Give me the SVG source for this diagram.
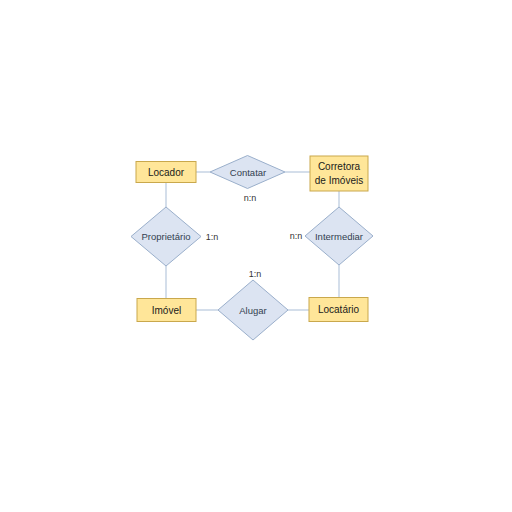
<svg xmlns="http://www.w3.org/2000/svg" width="512" height="512" viewBox="0 0 512 512">
<style>
.ent{fill:#FFE699;stroke:#C9A84C;stroke-width:1}
.rel{fill:#DCE4F2;stroke:#9AAFCB;stroke-width:1}
.et{font-family:"Liberation Sans","DejaVu Sans",sans-serif;font-size:10px;fill:#1a1a1a;text-anchor:middle;dominant-baseline:central}
.rt{font-family:"Liberation Sans","DejaVu Sans",sans-serif;font-size:9.5px;fill:#333F50;text-anchor:middle;dominant-baseline:central}
.ct{font-family:"Liberation Sans","DejaVu Sans",sans-serif;font-size:9px;fill:#333;text-anchor:middle;dominant-baseline:central}
.ln{stroke:#A9BDD6;stroke-width:1;fill:none}
</style>
<rect width="512" height="512" fill="#ffffff"/>
<g id="connectors">
<line class="ln" x1="196" y1="172" x2="210" y2="172"/>
<line class="ln" x1="285" y1="172" x2="310" y2="172"/>
<line class="ln" x1="166" y1="182" x2="166" y2="207"/>
<line class="ln" x1="166" y1="266" x2="166" y2="298"/>
<line class="ln" x1="339" y1="191" x2="339" y2="207"/>
<line class="ln" x1="339" y1="265" x2="339" y2="297"/>
<line class="ln" x1="196" y1="310" x2="218" y2="310"/>
<line class="ln" x1="288" y1="310" x2="309" y2="310"/>
</g>
<g id="locador"><rect class="ent" x="136" y="161.5" width="60" height="21"/><text class="et" x="166" y="172">Locador</text></g>
<g id="corretora"><rect class="ent" x="310" y="156" width="58" height="35"/><text class="et" x="339" y="166">Corretora</text><text class="et" x="339" y="180">de Imóveis</text></g>
<g id="imovel"><rect class="ent" x="137" y="298.5" width="59" height="23"/><text class="et" x="166.5" y="310">Imóvel</text></g>
<g id="locatario"><rect class="ent" x="309" y="297.5" width="59" height="24"/><text class="et" x="338.5" y="309.5">Locatário</text></g>
<g id="contatar"><polygon class="rel" points="210,172 247.5,155.5 285,172 247.5,188.5"/><text class="rt" x="248" y="172">Contatar</text></g>
<g id="proprietario"><polygon class="rel" points="131,236.5 166,207 201,236.5 166,266"/><text class="rt" x="166" y="236.5">Proprietário</text></g>
<g id="intermediar"><polygon class="rel" points="305,236 339,207 373,236 339,265"/><text class="rt" x="339" y="236">Intermediar</text></g>
<g id="alugar"><polygon class="rel" points="218,310 253,280 288,310 253,340"/><text class="rt" x="253" y="310">Alugar</text></g>
<g id="cardinalities">
<text class="ct" x="250" y="197.5">n:n</text>
<text class="ct" x="212" y="236.5">1:n</text>
<text class="ct" x="296" y="236">n:n</text>
<text class="ct" x="255" y="273.5">1:n</text>
</g>
</svg>
